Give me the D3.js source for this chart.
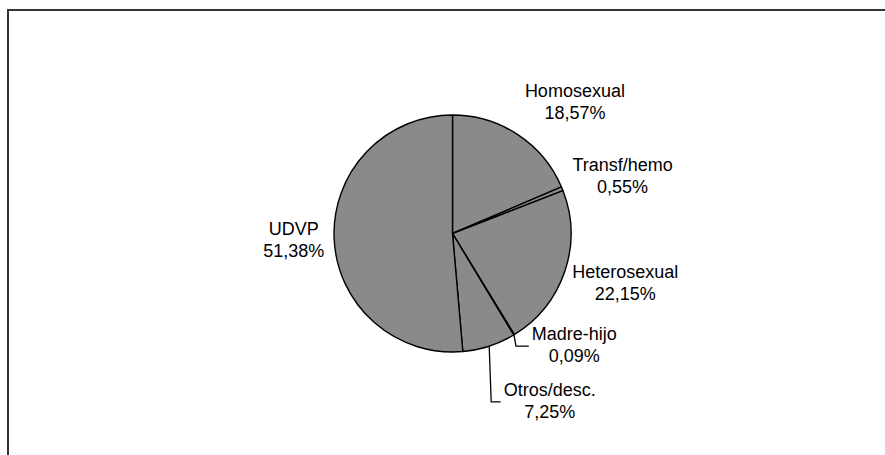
<!DOCTYPE html>
<html>
<head>
<meta charset="utf-8">
<script src="https://cdn.jsdelivr.net/npm/d3@7"></script>
<style>
  html, body { margin: 0; padding: 0; background: #ffffff; }
  svg { display: block; }
  text { font-family: "Liberation Sans", Arial, sans-serif; font-size: 18px; fill: #000; }
</style>
</head>
<body>
<svg id="chart" width="885" height="455"></svg>
<script>
// ---- data ----
const categories = ["Homosexual", "Transf/hemo", "Heterosexual", "Madre-hijo", "Otros/desc.", "UDVP"];
const values = [18.57, 0.55, 22.15, 0.09, 7.25, 51.38];
const valueLabels = ["18,57%", "0,55%", "22,15%", "0,09%", "7,25%", "51,38%"];

// ---- layout (not data) ----
const W = 885, H = 455;
const cx = 452.5, cy = 233.5, R = 118.5;
const labelR = 175;
// manual nudges of label blocks (like dragged labels in the original)
const labelNudge = [[26, 15], [8, 8], [7, -7], [31, -38], [43, 1], [16, -1]];
const withLeader = [false, false, false, true, true, false];
const lineGap = 22;

const svg = d3.select("#chart");

// frame
svg.append("rect")
  .attr("x", 8).attr("y", 10)
  .attr("width", 900).attr("height", 500)
  .attr("fill", "#fff")
  .attr("stroke", "#333")
  .attr("stroke-width", 2);

const g = svg.append("g").attr("transform", `translate(${cx},${cy})`);

const pie = d3.pie().sort(null).value(d => d)
  .startAngle(0).endAngle(2 * Math.PI);
const arcs = pie(values);
const arc = d3.arc().innerRadius(0).outerRadius(R);

g.selectAll("path.slice")
  .data(arcs)
  .join("path")
  .attr("class", "slice")
  .attr("d", arc)
  .attr("fill", "#8a8a8a")
  .attr("stroke", "#000")
  .attr("stroke-width", 1.4)
  .attr("stroke-linejoin", "round");

// labels
arcs.forEach((a, i) => {
  const mid = (a.startAngle + a.endAngle) / 2;
  const bx = labelR * Math.sin(mid) + labelNudge[i][0];
  const by = -labelR * Math.cos(mid) + labelNudge[i][1];
  const b1 = by - 5;          // baseline of first line
  const t = g.append("text").attr("text-anchor", "middle");
  t.append("tspan").attr("x", bx).attr("y", b1).text(categories[i]);
  t.append("tspan").attr("x", bx).attr("y", b1 + lineGap).text(valueLabels[i]);

  if (withLeader[i]) {
    const bbox = t.node().getBBox();
    const ex = R * Math.sin(mid), ey = -R * Math.cos(mid);
    const ly = b1 + 6;
    const left = Math.min(bbox.x, bx - t.node().getBBox().width / 2) - 3;
    g.append("path")
      .attr("d", d3.line()([[ex, ey], [ex + 2, ly], [left, ly]]))
      .attr("fill", "none")
      .attr("stroke", "#000")
      .attr("stroke-width", 1.3);
  }
});
</script>
</body>
</html>
